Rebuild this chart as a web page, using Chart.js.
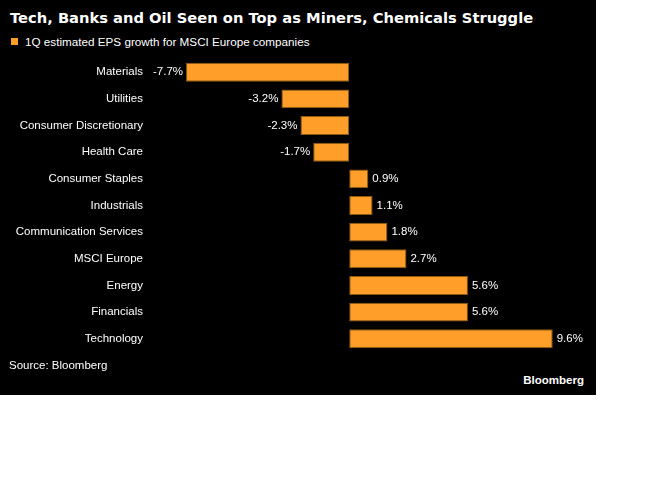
<!DOCTYPE html>
<html lang="en">
<head>
  <meta charset="UTF-8">
  <title>Tech, Banks and Oil Seen on Top</title>
  <script src="https://cdn.jsdelivr.net/npm/chart.js@4.4.0/dist/chart.umd.min.js"></script>
  <style>
    body {
      margin: 0;
      padding: 0;
      background: #fff;
      font-family: "Liberation Sans", Arial, sans-serif;
    }

    .panel {
      position: absolute;
      left: 0;
      top: 0;
      width: 596px;
      height: 395px;
      background: #000;
      color: #fff;
    }

    .title {
      position: absolute;
      left: 10px;
      top: 9px;
      font-family: "DejaVu Sans", Verdana, sans-serif;
      font-size: 14.7px;
      font-weight: bold;
      white-space: nowrap;
    }

    .legend {
      position: absolute;
      left: 11px;
      top: 35px;
      font-size: 11.7px;
      white-space: nowrap;
    }

    .legend .box {
      display: inline-block;
      width: 7px;
      height: 7px;
      background: #ff9f2a;
      margin-right: 7px;
      vertical-align: 1px;
    }

    .source {
      position: absolute;
      left: 9px;
      top: 359px;
      font-size: 11.5px;
    }

    .brand {
      position: absolute;
      right: 12px;
      top: 374px;
      font-size: 11.5px;
      font-weight: bold;
    }

    #chart-wrap {
      position: absolute;
      left: 0;
      top: 45px;
      width: 596px;
      height: 321px;
    }
  </style>
</head>
<body>
  <div class="panel">
    <div class="title">Tech, Banks and Oil Seen on Top as Miners, Chemicals Struggle</div>
    <div class="legend"><span class="box"></span>1Q estimated EPS growth for MSCI Europe companies</div>
    <div id="chart-wrap"><canvas id="myChart"></canvas></div>
    <div class="source">Source: Bloomberg</div>
    <div class="brand">Bloomberg</div>
  </div>

  <script>
    const sectors = [
      'Materials', 'Utilities', 'Consumer Discretionary', 'Health Care',
      'Consumer Staples', 'Industrials', 'Communication Services',
      'MSCI Europe', 'Energy', 'Financials', 'Technology'
    ];
    const epsGrowth = [-7.7, -3.2, -2.3, -1.7, 0.9, 1.1, 1.8, 2.7, 5.6, 5.6, 9.6];

    const labelFont = '11.5px "Liberation Sans", Arial, sans-serif';

    // draws the value next to the end of each bar
    const valueLabels = {
      id: 'valueLabels',
      afterDatasetsDraw(chart) {
        const ctx = chart.ctx;
        const meta = chart.getDatasetMeta(0);
        ctx.save();
        ctx.font = labelFont;
        ctx.fillStyle = '#fff';
        ctx.textBaseline = 'middle';
        meta.data.forEach((bar, i) => {
          const v = epsGrowth[i];
          const text = v.toFixed(1) + '%';
          if (v < 0) {
            ctx.textAlign = 'right';
            ctx.fillText(text, bar.x - 3, bar.y);
          } else {
            ctx.textAlign = 'left';
            ctx.fillText(text, bar.x + 4, bar.y);
          }
        });
        ctx.restore();
      }
    };

    const ctx = document.getElementById('myChart').getContext('2d');
    const myChart = new Chart(ctx, {
      type: 'bar',
      data: {
        labels: sectors,
        datasets: [{
          label: '1Q estimated EPS growth for MSCI Europe companies',
          data: epsGrowth,
          backgroundColor: '#ff9f2a',
          borderColor: '#8b5a14',
          borderWidth: 1,
          borderSkipped: false,
          barPercentage: 0.71,
          categoryPercentage: 1
        }]
      },
      options: {
        indexAxis: 'y',
        responsive: true,
        maintainAspectRatio: false,
        animation: false,
        layout: { padding: { left: 0, right: 3, top: 0, bottom: 0 } },
        plugins: {
          legend: { display: false },
          tooltip: { enabled: false }
        },
        scales: {
          x: {
            display: false,
            min: -9.4,
            max: 11.5
          },
          y: {
            afterFit(scale) { scale.width = 150; },
            grid: { display: false, drawTicks: false },
            border: { display: false },
            ticks: {
              color: '#fff',
              padding: 7,
              autoSkip: false,
              font: { family: '"Liberation Sans", Arial, sans-serif', size: 11.5 }
            }
          }
        }
      },
      plugins: [valueLabels]
    });
  </script>
</body>
</html>
